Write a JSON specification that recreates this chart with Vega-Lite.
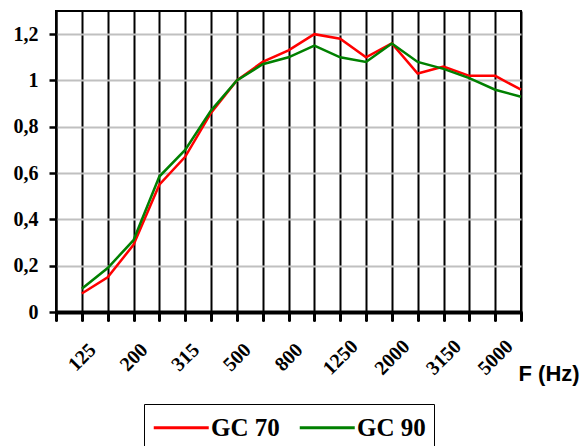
{
  "$schema": "https://vega.github.io/schema/vega-lite/v6.json",
  "width": 465,
  "height": 301,
  "autosize": "none",
  "padding": {"left": 56, "top": 11, "right": 64, "bottom": 134},
  "background": "white",
  "config": {"view": {"stroke": "black", "strokeWidth": 2}},
  "data": {
    "values": [
      {"f": "125", "series": "GC 70", "v": 0.08},
      {"f": "160", "series": "GC 70", "v": 0.15},
      {"f": "200", "series": "GC 70", "v": 0.29},
      {"f": "250", "series": "GC 70", "v": 0.55},
      {"f": "315", "series": "GC 70", "v": 0.67},
      {"f": "400", "series": "GC 70", "v": 0.86},
      {"f": "500", "series": "GC 70", "v": 1.0},
      {"f": "630", "series": "GC 70", "v": 1.08},
      {"f": "800", "series": "GC 70", "v": 1.13},
      {"f": "1000", "series": "GC 70", "v": 1.2},
      {"f": "1250", "series": "GC 70", "v": 1.18},
      {"f": "1600", "series": "GC 70", "v": 1.1},
      {"f": "2000", "series": "GC 70", "v": 1.16},
      {"f": "2500", "series": "GC 70", "v": 1.03},
      {"f": "3150", "series": "GC 70", "v": 1.06},
      {"f": "4000", "series": "GC 70", "v": 1.02},
      {"f": "5000", "series": "GC 70", "v": 1.02},
      {"f": "6300", "series": "GC 70", "v": 0.96},
      {"f": "125", "series": "GC 90", "v": 0.1},
      {"f": "160", "series": "GC 90", "v": 0.19},
      {"f": "200", "series": "GC 90", "v": 0.31},
      {"f": "250", "series": "GC 90", "v": 0.585},
      {"f": "315", "series": "GC 90", "v": 0.7},
      {"f": "400", "series": "GC 90", "v": 0.87},
      {"f": "500", "series": "GC 90", "v": 1.0},
      {"f": "630", "series": "GC 90", "v": 1.07},
      {"f": "800", "series": "GC 90", "v": 1.1},
      {"f": "1000", "series": "GC 90", "v": 1.15},
      {"f": "1250", "series": "GC 90", "v": 1.1},
      {"f": "1600", "series": "GC 90", "v": 1.08},
      {"f": "2000", "series": "GC 90", "v": 1.16},
      {"f": "2500", "series": "GC 90", "v": 1.08},
      {"f": "3150", "series": "GC 90", "v": 1.05},
      {"f": "4000", "series": "GC 90", "v": 1.01},
      {"f": "5000", "series": "GC 90", "v": 0.96},
      {"f": "6300", "series": "GC 90", "v": 0.93}
    ]
  },
  "mark": {"type": "line", "strokeWidth": 2.5},
  "encoding": {
    "x": {
      "field": "f",
      "type": "ordinal",
      "scale": {
        "type": "point",
        "padding": 0,
        "domain": ["100", "125", "160", "200", "250", "315", "400", "500", "630", "800", "1000", "1250", "1600", "2000", "2500", "3150", "4000", "5000", "6300"]
      },
      "axis": {
        "title": "F (Hz)",
        "titleFont": "Liberation Sans",
        "titleFontSize": 22,
        "titleFontWeight": "bold",
        "titleColor": "black",
        "titleX": 462,
        "titleY": 68,
        "titleAlign": "left",
        "titleBaseline": "alphabetic",
        "labelAngle": -45,
        "labelAlign": "center",
        "labelBaseline": "middle",
        "labelPadding": 37,
        "labelDx": 3,
        "labelFont": "Liberation Serif",
        "labelFontSize": 20,
        "labelFontWeight": "bold",
        "labelColor": "black",
        "labelOverlap": false,
        "labelExpr": "indexof(['125','200','315','500','800','1250','2000','3150','5000'], datum.label) >= 0 ? datum.label : ''",
        "domainColor": "black",
        "domainWidth": 4,
        "tickColor": "black",
        "tickWidth": 3,
        "tickSize": 8,
        "tickCap": "round",
        "grid": true,
        "gridColor": "black",
        "gridWidth": 2
      }
    },
    "y": {
      "field": "v",
      "type": "quantitative",
      "scale": {"domain": [0, 1.3], "nice": false},
      "axis": {
        "title": null,
        "values": [0, 0.2, 0.4, 0.6, 0.8, 1, 1.2],
        "labelExpr": "replace(format(datum.value, '~g'), '.', ',')",
        "labelFont": "Liberation Serif",
        "labelFontSize": 20,
        "labelFontWeight": "bold",
        "labelColor": "black",
        "labelPadding": 11,
        "tickSize": 7,
        "tickColor": "black",
        "tickWidth": 2.5,
        "domainColor": "black",
        "domainWidth": 2,
        "grid": true,
        "gridColor": "#c0c0c0",
        "gridWidth": 2
      }
    },
    "color": {
      "field": "series",
      "type": "nominal",
      "scale": {"domain": ["GC 70", "GC 90"], "range": ["#ff0000", "#008000"]},
      "legend": {
        "title": null,
        "orient": "none",
        "legendX": 88,
        "legendY": 393,
        "direction": "horizontal",
        "strokeColor": "black",
        "fillColor": "white",
        "padding": 8,
        "labelFont": "Liberation Serif",
        "labelFontSize": 25,
        "labelFontWeight": "bold",
        "labelColor": "black",
        "symbolType": "M-1,0H3",
        "symbolSize": 756,
        "symbolStrokeWidth": 3,
        "labelOffset": 28,
        "columnPadding": 13
      }
    }
  }
}
